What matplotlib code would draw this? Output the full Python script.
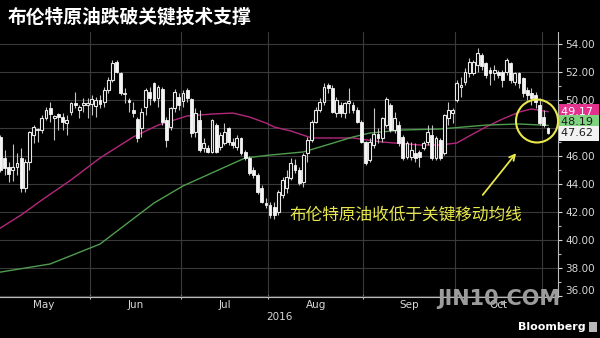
import matplotlib
matplotlib.use("Agg")
import matplotlib.pyplot as plt
import matplotlib.transforms as mtransforms
from matplotlib.patches import Ellipse, Rectangle
import numpy as np
import pandas as pd

plt.rcParams['font.family'] = ['Noto Sans CJK SC', 'DejaVu Sans']

# daily Brent candles, 2 May - 2 Nov 2016
dates = pd.bdate_range('2016-05-02', '2016-11-02')

open_ = [47.38, 45.88, 45.24, 45.00, 45.24, 45.83, 43.70, 45.60, 47.50, 47.93,
         47.86, 48.69, 49.40, 48.74, 48.98, 48.81, 48.33, 49.17, 49.76, 49.29,
         49.64, 49.64, 49.70, 49.57, 50.00, 49.88, 50.71, 51.43, 52.74, 51.90,
         50.52, 50.00, 49.29, 48.62, 47.98, 49.52, 50.60, 51.19, 50.12, 50.76,
         48.57, 48.10, 49.40, 50.24, 49.90, 50.71, 50.05, 47.74, 48.57, 46.55,
         46.55, 46.31, 48.21, 46.67, 46.90, 47.98, 47.02, 46.67, 47.26, 46.31,
         45.83, 45.00, 44.64, 43.69, 42.62, 42.50, 42.38, 42.00, 43.20, 43.69,
         44.40, 45.36, 45.00, 44.17, 46.19, 47.14, 48.45, 49.29, 49.88, 51.07,
         50.83, 49.05, 49.64, 49.05, 49.76, 49.64, 49.29, 48.40, 47.00, 45.70,
         46.80, 47.60, 47.30, 48.20, 49.64, 47.86, 48.21, 47.38, 45.90, 45.95,
         46.19, 46.31, 46.55, 47.02, 47.50, 45.83, 47.14, 46.20, 48.70, 49.05,
         50.00, 50.95, 51.31, 51.90, 51.90, 52.50, 53.20, 52.62, 52.14, 51.90,
         52.02, 52.02, 52.02, 52.62, 51.31, 51.95, 51.55, 50.71, 50.48, 50.36,
         49.64, 48.76, 47.98]
high = [47.50, 46.43, 45.60, 46.83, 46.20, 46.55, 45.80, 47.78, 48.21, 48.02,
        48.93, 49.52, 49.88, 48.93, 49.05, 49.05, 48.93, 49.88, 50.60, 49.64,
        50.17, 50.12, 50.36, 50.24, 50.36, 50.95, 51.67, 52.86, 52.86, 52.02,
        50.83, 50.12, 49.88, 48.81, 49.40, 50.83, 50.95, 51.31, 51.07, 50.95,
        48.81, 49.52, 50.76, 50.48, 50.70, 50.83, 50.12, 49.40, 49.29, 47.26,
        46.79, 48.62, 48.33, 47.74, 48.33, 48.10, 47.26, 47.50, 47.38, 46.43,
        46.00, 45.24, 44.76, 43.93, 42.98, 42.74, 42.70, 43.60, 44.50, 45.00,
        45.83, 45.76, 45.24, 46.19, 47.38, 48.57, 49.52, 50.12, 51.19, 51.24,
        51.07, 50.24, 49.88, 49.88, 50.83, 49.88, 49.52, 48.57, 47.10, 47.30,
        49.40, 47.98, 48.80, 50.20, 49.80, 49.17, 48.50, 47.50, 47.10, 47.00,
        46.90, 46.43, 47.10, 48.21, 48.21, 47.40, 47.30, 49.00, 49.88, 49.40,
        51.43, 51.67, 52.26, 52.98, 52.86, 53.69, 53.33, 52.74, 52.38, 52.50,
        52.14, 52.14, 52.98, 52.74, 52.02, 52.02, 51.67, 50.95, 50.83, 50.60,
        50.12, 49.29, 48.10]
low = [44.88, 44.64, 44.17, 44.21, 44.64, 43.45, 43.45, 45.00, 46.90, 46.98,
       47.62, 48.57, 48.45, 47.14, 47.86, 47.86, 47.50, 48.93, 49.40, 48.69,
       49.17, 48.69, 48.93, 48.81, 49.40, 49.52, 50.48, 51.31, 51.90, 50.36,
       49.76, 49.17, 48.81, 47.02, 47.38, 48.93, 49.64, 49.88, 49.52, 48.21,
       46.67, 47.86, 49.17, 49.29, 49.50, 49.88, 47.38, 47.38, 46.31, 46.31,
       46.19, 46.19, 46.19, 46.43, 46.79, 46.79, 46.55, 46.43, 46.07, 45.71,
       44.64, 44.40, 43.29, 42.62, 42.26, 41.55, 41.48, 41.80, 42.98, 43.33,
       44.29, 44.76, 43.93, 43.81, 45.60, 47.02, 48.33, 49.17, 49.64, 50.48,
       49.05, 48.81, 48.81, 48.69, 49.05, 49.05, 48.33, 46.90, 45.36, 45.60,
       46.55, 46.90, 47.00, 48.10, 47.70, 47.62, 46.70, 45.70, 45.80, 45.70,
       45.60, 45.24, 46.40, 46.79, 45.71, 45.70, 45.70, 46.07, 48.20, 48.33,
       49.88, 50.24, 51.07, 51.67, 51.79, 52.02, 52.14, 51.55, 51.07, 51.43,
       51.55, 50.95, 51.79, 51.19, 51.07, 50.83, 50.24, 50.00, 49.64, 49.40,
       48.21, 48.10, 47.55]
close = [45.00, 45.12, 44.69, 45.24, 45.48, 43.69, 45.60, 47.74, 48.10, 47.83,
         48.69, 49.29, 48.98, 48.86, 48.79, 48.45, 48.57, 49.76, 49.64, 49.52,
         49.81, 49.76, 50.05, 50.00, 49.69, 50.71, 51.43, 52.62, 52.02, 50.48,
         50.40, 49.86, 49.05, 47.26, 49.17, 50.71, 50.12, 50.00, 50.95, 48.45,
         47.14, 49.40, 50.60, 49.64, 50.50, 50.12, 47.62, 49.05, 46.43, 46.90,
         46.31, 48.57, 46.31, 47.50, 47.74, 47.02, 46.79, 47.26, 46.19, 45.83,
         44.76, 44.64, 43.45, 42.74, 42.50, 41.79, 41.80, 43.40, 44.29, 44.52,
         45.48, 45.00, 44.05, 46.07, 47.14, 48.45, 49.29, 49.88, 50.95, 50.83,
         49.17, 50.00, 49.05, 49.76, 49.95, 49.29, 48.45, 47.00, 45.50, 47.00,
         47.60, 47.30, 48.70, 50.10, 47.86, 48.69, 46.90, 45.83, 46.90, 46.43,
         45.83, 45.95, 46.90, 47.74, 45.83, 47.26, 45.83, 48.90, 49.30, 49.29,
         51.19, 51.07, 52.02, 52.74, 52.74, 53.33, 52.40, 51.79, 51.95, 52.14,
         51.79, 51.43, 52.86, 51.43, 51.90, 51.19, 50.48, 50.36, 50.12, 49.88,
         48.33, 48.21, 47.62]

# moving averages, read at sample days (index into dates)
ma50_idx = [0, 5, 10, 17, 24, 32, 38, 45, 51, 56, 60, 64, 66, 70, 75, 85, 92,
            101, 106, 110, 113, 117, 121, 125, 128, 132]
ma50 = [40.86, 41.79, 42.86, 44.29, 45.86, 47.36, 48.21, 48.86, 49.00, 49.07,
        48.79, 48.36, 48.07, 47.79, 47.29, 47.29, 47.00, 46.79, 46.79, 46.93,
        47.43, 48.07, 48.64, 49.14, 49.36, 49.17]
ma100_idx = [0, 12, 24, 31, 37, 44, 52, 59, 65, 73, 81, 85, 89, 97, 106, 117,
             125, 132]
ma100 = [37.71, 38.29, 39.71, 41.29, 42.64, 43.86, 44.93, 45.86, 46.07, 46.29,
         47.00, 47.36, 47.64, 47.86, 47.93, 48.21, 48.29, 48.19]

title = '布伦特原油跌破关键技术支撑'
note = '布伦特原油收低于关键移动均线'
y_ticks = np.arange(36, 55, 2)

fig = plt.figure(figsize=(6, 3.38), dpi=100, facecolor='black')
ax = fig.add_axes([0, 41 / 338, 558 / 600, 265 / 338])
ax.set_facecolor('black')

x = np.arange(len(dates))
o = np.array(open_)
h = np.array(high)
l = np.array(low)
c = np.array(close)
up = c >= o
lo = np.minimum(o, c)
hgt = np.maximum(np.abs(c - o), 0.06)

ax.vlines(x, l, h, color='#c4c4c4', lw=0.8, zorder=3)
ax.bar(x[up], hgt[up], bottom=lo[up], width=0.68, facecolor='black',
       edgecolor='#e8e8e8', linewidth=0.8, zorder=4)
ax.bar(x[~up], hgt[~up], bottom=lo[~up], width=0.68, facecolor='#f4f4f4',
       edgecolor='#f4f4f4', linewidth=0.6, zorder=4)

ax.plot(ma50_idx, ma50, color='#b4287c', lw=1.0, zorder=2)
ax.plot(ma100_idx, ma100, color='#4f9d4f', lw=1.0, zorder=2)

ax.set_xlim(-0.1, 134.4)
ax.set_ylim(35.93, 54.86)

# month boundaries and labels
months = dates.to_period('M')
bounds = [i - 0.5 for i in range(1, len(dates)) if months[i] != months[i - 1]]
ax.set_xticks(bounds)
ax.tick_params(axis='x', length=3, direction='inout', color='#bbbbbb',
               labelbottom=False)
tb = mtransforms.blended_transform_factory(ax.transData, ax.transAxes)
for m in months.unique()[:-1]:
    idx = np.where(months == m)[0]
    ax.text((idx[0] + idx[-1]) / 2, -0.032, m.strftime('%b'), transform=tb,
            ha='center', va='center', color='#d8d8d8', fontsize=7.5,
            family='DejaVu Sans')
ax.text(0.5, -0.077, '2016', transform=ax.transAxes, ha='center', va='center',
        color='#d8d8d8', fontsize=7.5, family='DejaVu Sans')

ax.yaxis.tick_right()
ax.set_yticks(y_ticks)
ax.set_yticklabels([f'{v:.2f}' for v in y_ticks], family='DejaVu Sans')
ax.set_yticks(np.arange(37, 55, 2), minor=True)
ax.tick_params(axis='y', which='major', colors='#d8d8d8', labelsize=7.5,
               length=3, width=0.8, pad=2)
ax.tick_params(axis='y', which='minor', colors='#bbbbbb', length=2, width=0.8)
ax.get_yticklabels()[0].set_va('bottom')

ax.grid(True, color='#3a3a3a', lw=0.8, zorder=0)
for s in ['top', 'left']:
    ax.spines[s].set_visible(False)
for s in ['right', 'bottom']:
    ax.spines[s].set_color('#bbbbbb')
    ax.spines[s].set_linewidth(0.8)

# price flags on the right
ty = mtransforms.blended_transform_factory(ax.transAxes, ax.transData)
ax.text(1.006, ma50[-1], f'{ma50[-1]:.2f} ', transform=ty, ha='left',
        va='center', color='white', fontsize=8, family='DejaVu Sans',
        bbox=dict(boxstyle='square,pad=0.2', fc='#e2328e', ec='none'),
        clip_on=False, zorder=6)
ax.text(1.006, ma100[-1] + 0.23, f'{ma100[-1]:.2f} ', transform=ty, ha='left',
        va='center', color='#1a1a1a', fontsize=8, family='DejaVu Sans',
        bbox=dict(boxstyle='square,pad=0.2', fc='#7fd27f', ec='none'),
        clip_on=False, zorder=6)
ax.text(1.006, close[-1], f'{close[-1]:.2f} ', transform=ty, ha='left',
        va='center', color='#1a1a1a', fontsize=8, family='DejaVu Sans',
        bbox=dict(boxstyle='square,pad=0.2', fc='#f2f2f2', ec='none'),
        clip_on=False, zorder=7)

# annotation
yellow = '#e8e84a'
ax.text(0.728, 0.309, note, transform=ax.transAxes, ha='center', va='center',
        color=yellow, fontsize=12)
ax.annotate('', xy=(0.928, 0.551), xytext=(0.862, 0.377),
            xycoords='axes fraction', textcoords='axes fraction',
            arrowprops=dict(arrowstyle='->', color=yellow, lw=1.3))
ax.add_patch(Ellipse((0.9624, 0.664), 0.0753, 0.162, transform=ax.transAxes,
                     fill=False, ec=yellow, lw=1.5, zorder=8, clip_on=False))

fig.text(8 / 600, 1 - 17 / 338, title, ha='left', va='center', color='white',
         fontsize=13.5, fontweight='bold')
fig.text(499 / 600, 1 - 299 / 338, 'JIN10.COM', ha='center', va='center',
         color='#9c9c9c', fontsize=15, fontweight='bold', family='DejaVu Sans')
fig.text(586 / 600, 1 - 327 / 338, 'Bloomberg', ha='right', va='center',
         color='white', fontsize=8, fontweight='bold', family='DejaVu Sans')
fig.patches.append(Rectangle((589 / 600, 1 - 332 / 338), 8 / 600, 10 / 338,
                             transform=fig.transFigure, fc='#b8b8b8', ec='none'))

fig.savefig('out.png', dpi=100, facecolor='black')
